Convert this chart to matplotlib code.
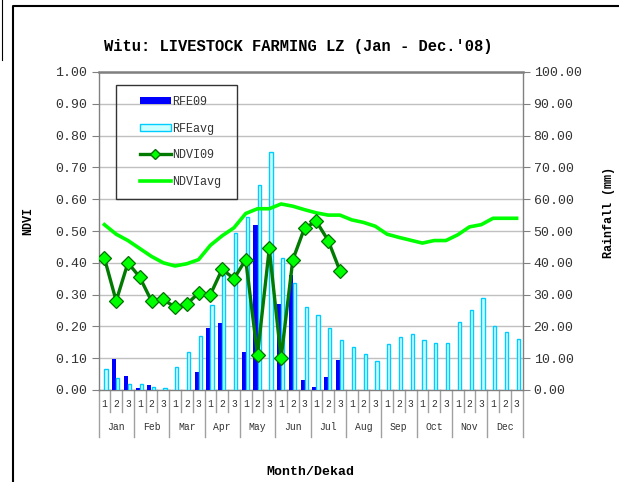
import matplotlib
matplotlib.use('Agg')
import matplotlib.pyplot as plt
import numpy as np
from matplotlib.lines import Line2D
from matplotlib.patches import Patch, Rectangle
import matplotlib.transforms as mtransforms

# ---------------- data ----------------
months = ['Jan', 'Feb', 'Mar', 'Apr', 'May', 'Jun', 'Jul', 'Aug', 'Sep', 'Oct', 'Nov', 'Dec']
dekads = ['1', '2', '3']

rfe09 = [0, 9.8, 4.5, 0.6, 1.5, 0, 0, 0, 5.6, 19.6, 21.2, 0,
         12.0, 52.0, 0, 27.0, 36.2, 3.0, 1.1, 4.0, 9.3]
rfe_avg = [6.5, 3.8, 1.8, 1.8, 0.9, 0.5, 7.2, 12.0, 17.0, 26.8, 36.2, 49.4,
           54.3, 64.5, 74.7, 41.5, 33.8, 26.0, 23.5, 19.5, 15.7, 13.6, 11.2, 9.1,
           14.5, 16.6, 17.7, 15.6, 14.9, 14.9, 21.5, 25.2, 28.8, 20.2, 18.1, 16.1]
ndvi09 = [0.415, 0.28, 0.40, 0.355, 0.28, 0.285, 0.26, 0.27, 0.305, 0.30, 0.38, 0.35,
          0.41, 0.11, 0.445, 0.10, 0.41, 0.51, 0.53, 0.47, 0.375]
ndvi_avg = [0.52, 0.49, 0.47, 0.445, 0.42, 0.40, 0.39, 0.397, 0.41, 0.455, 0.485, 0.51,
            0.555, 0.57, 0.57, 0.585, 0.578, 0.567, 0.557, 0.55, 0.55, 0.535, 0.527, 0.515,
            0.49, 0.48, 0.471, 0.462, 0.47, 0.47, 0.488, 0.513, 0.52, 0.54, 0.54, 0.54]

title = "Witu: LIVESTOCK FARMING LZ (Jan - Dec.'08)"

# ---------------- figure ----------------
W, H = 619, 482
fig = plt.figure(figsize=(W / 100, H / 100), dpi=100)
MONO = ['Liberation Mono', 'DejaVu Sans Mono']
TXT = '#333333'


def px(x, y):
    return x / W, 1 - y / H


L, R, T, B = 98.5, 522.5, 72, 390
rect = [L / W, 1 - B / H, (R - L) / W, (B - T) / H]
ax2 = fig.add_axes(rect)                 # rainfall (right axis), drawn below
ax = fig.add_axes(rect, sharex=ax2)      # NDVI (left axis), drawn on top
ax.set_zorder(ax2.get_zorder() + 1)
ax.patch.set_visible(False)

n = len(rfe_avg)
x_all = np.arange(n)
x09 = np.arange(len(rfe09))

# rainfall bars
ax2.bar(x09 - 0.34, rfe09, width=0.34, align='edge', color='#0000FF', linewidth=0, zorder=3)
ax2.bar(x_all, rfe_avg, width=0.28, align='edge', color='#CCFFFF',
        edgecolor='#00CCFF', linewidth=1.0, zorder=3)

ax2.set_ylim(0, 100)
ax2.set_xlim(-0.5, n - 0.5)
ax2.yaxis.tick_right()
ax2.set_yticks(np.arange(0, 101, 10))
ax2.set_yticklabels(['%.2f' % v for v in np.arange(0, 101, 10)], fontfamily=MONO,
                    fontsize=9.5, color=TXT)
ax2.grid(axis='y', color='#C0C0C0', linewidth=1.0, zorder=0)
ax2.set_axisbelow(True)
ax2.tick_params(axis='y', direction='out', length=5, color='#808080', pad=3)
ax2.tick_params(axis='x', length=0, labelbottom=False)
for s in ['left', 'right', 'top', 'bottom']:
    ax2.spines[s].set_color('#808080')
    ax2.spines[s].set_linewidth(1.0)
ax2.spines['top'].set_linewidth(1.8)

# NDVI lines
ax.plot(x_all, ndvi_avg, color='#00FF00', linewidth=2.6, zorder=4)
ax.plot(x09, ndvi09, color='#007A00', linewidth=2.4, marker='D', markersize=7,
        markerfacecolor='#00FF00', markeredgecolor='#007000', markeredgewidth=0.9, zorder=5)
ax.set_ylim(0, 1)
ax.set_yticks(np.arange(0, 1.01, 0.1))
ax.set_yticklabels(['%.2f' % v for v in np.arange(0, 1.01, 0.1)], fontfamily=MONO,
                   fontsize=9.5, color=TXT)
ax.tick_params(axis='y', direction='out', length=5, color='#808080', pad=3)
ax.tick_params(axis='x', length=0, labelbottom=False)
for s in ['left', 'right', 'top', 'bottom']:
    ax.spines[s].set_visible(False)

# x axis: dekad numbers, month names and separators
trans = mtransforms.blended_transform_factory(ax2.transData, ax2.transAxes)
ph = B - T
for i in range(n):
    ax2.text(i, -14 / ph, dekads[i % 3], transform=trans, ha='center', va='center',
             fontfamily=MONO, fontsize=7, color=TXT)
for b in range(n + 1):
    depth = 47 if b % 3 == 0 else 22
    ax2.plot([b - 0.5, b - 0.5], [0, -depth / ph], transform=trans, color='#A0A0A0',
             linewidth=1.0, clip_on=False)
for m, name in enumerate(months):
    ax2.text(3 * m + 1, -37 / ph, name, transform=trans, ha='center', va='center',
             fontfamily=MONO, fontsize=7, color=TXT)

# axis labels and title
fig.text(*px(298, 47), title, ha='center', va='center', fontfamily=MONO, fontsize=11.2,
         fontweight='bold')
fig.text(*px(28, 221), 'NDVI', rotation=90, ha='center', va='center', fontfamily=MONO,
         fontsize=8.5, fontweight='bold')
fig.text(*px(609, 212), 'Rainfall (mm)', rotation=90, ha='center', va='center',
         fontfamily=MONO, fontsize=8.5, fontweight='bold')
fig.text(*px(310, 472), 'Month/Dekad', ha='center', va='center', fontfamily=MONO,
         fontsize=9.5, fontweight='bold')

# legend
handles = [Patch(facecolor='#0000FF', edgecolor='#0000FF', linewidth=0),
           Patch(facecolor='#CCFFFF', edgecolor='#00CCFF', linewidth=1.0),
           Line2D([], [], color='#007A00', linewidth=2.4, marker='D', markersize=5,
                  markerfacecolor='#00FF00', markeredgecolor='#007000'),
           Line2D([], [], color='#00FF00', linewidth=2.6)]
labels = ['RFE09', 'RFEavg', 'NDVI09', 'NDVIavg']
fig.legend(handles, labels, loc='upper left', bbox_to_anchor=px(134, 90),
           frameon=False, prop={'family': MONO, 'size': 8.5}, handlelength=2.6,
           handletextpad=0.15, labelspacing=1.25, borderpad=0, handleheight=0.6,
           labelcolor=TXT)
fig.add_artist(Rectangle(px(116, 199), 121 / W, 114 / H, transform=fig.transFigure,
                         fill=False, edgecolor='#333333', linewidth=1.0, zorder=10))

# outer frame lines
fig.add_artist(Line2D([13 / W, 13 / W, 1.01], [-0.01, 1 - 6 / H, 1 - 6 / H],
                      transform=fig.transFigure, color='black', linewidth=1.5))
fig.add_artist(Line2D([2 / W, 2 / W], [1 - 60 / H, 1.01],
                      transform=fig.transFigure, color='black', linewidth=0.8))

fig.savefig('out.png', dpi=100)
